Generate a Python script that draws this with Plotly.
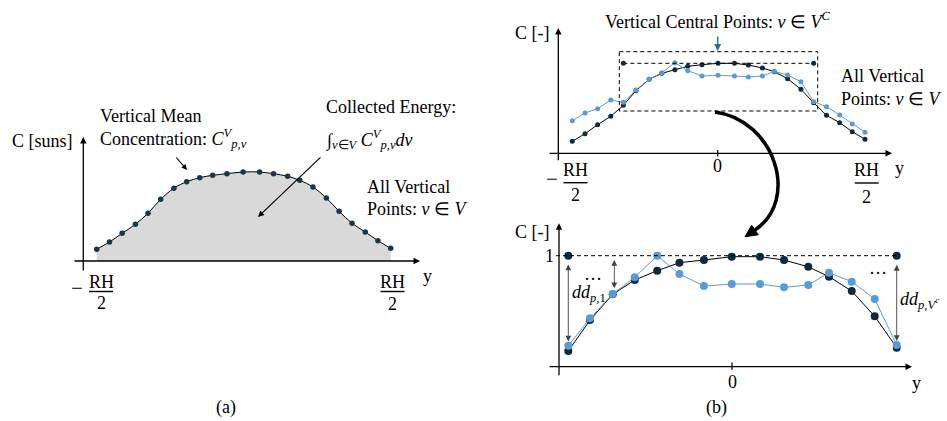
import plotly.graph_objects as go

# ---------------- data ----------------
# normalized vertical position (y / (RH/2)) of every vertical point
y_pos = [-1.0, -0.913, -0.827, -0.737, -0.651, -0.565, -0.475, -0.388, -0.299, -0.211, -0.114,
         -0.004, 0.108, 0.203, 0.299, 0.381, 0.471, 0.562, 0.649, 0.737, 0.827, 0.913, 1.0]

# (a) vertical mean concentration
conc_a = [0.117, 0.19, 0.277, 0.367, 0.477, 0.617, 0.727, 0.793, 0.833, 0.857, 0.873, 0.89,
          0.89, 0.873, 0.847, 0.807, 0.74, 0.63, 0.497, 0.377, 0.29, 0.203, 0.127]

# (b) top: reference (black) and actual (blue) profiles
conc_ref = [0.12, 0.196, 0.286, 0.37, 0.48, 0.626, 0.74, 0.80, 0.836, 0.87, 0.886, 0.90,
            0.90, 0.883, 0.853, 0.816, 0.746, 0.64, 0.506, 0.38, 0.306, 0.216, 0.14]
conc_act = [0.326, 0.403, 0.446, 0.533, 0.51, 0.633, 0.74, 0.806, 0.906, 0.826, 0.773, 0.78,
            0.773, 0.763, 0.773, 0.82, 0.783, 0.716, 0.516, 0.466, 0.383, 0.293, 0.21]

# central points (indices into y_pos)
central_first, central_last = 4, 18

# (b) bottom: normalized central profiles
norm_ref = [0.141, 0.42, 0.652, 0.781, 0.865, 0.937, 0.961, 0.991, 0.991, 0.961, 0.90, 0.811,
            0.682, 0.454, 0.171]
norm_act = [0.189, 0.436, 0.655, 0.805, 1.0, 0.835, 0.727, 0.745, 0.745, 0.715, 0.736, 0.847,
            0.766, 0.61, 0.195]

# ---------------- helpers ----------------
W, H = 947, 421
SERIF = "Liberation Serif"
FS = 18
BLUE = "#5b9bd5"
DARK = "#0f2a3a"


def fx(p):
    return p / W


def fy(p):
    return 1 - p / H


def axis_cfg(dom, ref1, ref2, vertical=False):
    (p1, v1), (p2, v2) = ref1, ref2
    s = (v2 - v1) / (p2 - p1)
    val = lambda p: v1 + (p - p1) * s
    a, b = dom
    if not vertical:
        return dict(domain=[a / W, b / W], range=[val(a), val(b)], visible=False)
    return dict(domain=[1 - b / H, 1 - a / H], range=[val(b), val(a)], visible=False)


annotations = []
shapes = []


def txt(x, y, s, size=FS, anchor="center", color="black"):
    annotations.append(dict(x=fx(x), y=fy(y), xref="paper", yref="paper", text=s,
                            showarrow=False, xanchor=anchor, yanchor="middle",
                            font=dict(family=SERIF, size=size, color=color)))


def arrow(x0, y0, x1, y1, color="black", width=1.3, head=2, size=1.0, both=False):
    annotations.append(dict(x=fx(x1), y=fy(y1), xref="paper", yref="paper",
                            ax=x0 - x1, ay=y0 - y1, axref="pixel", ayref="pixel",
                            showarrow=True, text="", arrowhead=head, arrowsize=size,
                            arrowwidth=width, arrowcolor=color,
                            arrowside="end+start" if both else "end",
                            startarrowhead=head, startarrowsize=size,
                            standoff=0, startstandoff=0))


def line(x0, y0, x1, y1, width=1.0, dash="solid", color="black"):
    shapes.append(dict(type="line", xref="paper", yref="paper", x0=fx(x0), y0=fy(y0),
                       x1=fx(x1), y1=fy(y1), line=dict(color=color, width=width, dash=dash)))


def frac(xc, y_num, y_bar, y_den, minus_x=None):
    txt(xc, y_num, "RH")
    line(xc - 12, y_bar, xc + 12, y_bar, width=1.4)
    txt(xc, y_den, "2")
    if minus_x is not None:
        txt(minus_x, y_bar - 4, "−", size=21)


fig = go.Figure()

# ---------------- panel (a) ----------------
fig.add_trace(go.Scatter(x=y_pos, y=conc_a, mode="lines+markers", xaxis="x", yaxis="y",
                         line=dict(shape="spline", color="black", width=1),
                         marker=dict(size=5.5, color="#17384a"),
                         fill="tozeroy", fillcolor="#d9d9d9", showlegend=False,
                         hoverinfo="skip"))

arrow(83.3, 272, 83.3, 137)        # y axis
arrow(73, 261, 420, 261)           # x axis
txt(42, 141, "C [suns]")
txt(98, 116, "Vertical Mean", anchor="left")
txt(98, 138, "Concentration: <i>C</i><sup><i>V</i></sup><sub><i>p,v</i></sub>", anchor="left")
arrow(175, 156, 187, 170, width=1.1)
txt(324, 107, "Collected Energy:", anchor="left")
txt(324, 139, "∫<sub><i>v</i>∈<i>V</i></sub> <i>C</i><sup><i>V</i></sup><sub><i>p,v</i></sub><i>dv</i>",
    anchor="left")
arrow(322, 156, 258, 217, width=1.2)
txt(365, 187, "All Vertical", anchor="left")
txt(365, 209, "Points: <i>v</i> ∈ <i>V</i>", anchor="left")
frac(101, 282, 291.5, 303, minus_x=77)
frac(392.5, 282, 291.5, 304)
txt(427, 276, "y")
txt(226, 407, "(a)")

# ---------------- panel (b) top ----------------
fig.add_trace(go.Scatter(x=y_pos, y=conc_ref, mode="lines+markers", xaxis="x2", yaxis="y2",
                         line=dict(color="black", width=1),
                         marker=dict(size=5, color=DARK), showlegend=False, hoverinfo="skip"))
fig.add_trace(go.Scatter(x=y_pos, y=conc_act, mode="lines+markers", xaxis="x2", yaxis="y2",
                         line=dict(color=BLUE, width=1),
                         marker=dict(size=5, color=BLUE), showlegend=False, hoverinfo="skip"))
cmax = max(conc_ref[central_first:central_last + 1])
fig.add_trace(go.Scatter(x=[y_pos[central_first], y_pos[central_last]], y=[cmax, cmax],
                         mode="lines+markers", xaxis="x2", yaxis="y2",
                         line=dict(color="black", width=1, dash="4px,3px"),
                         marker=dict(size=5, color=DARK), showlegend=False, hoverinfo="skip"))

arrow(558.3, 161.7, 558.3, 28)
arrow(548, 153.3, 892, 153.3)
line(717.7, 150, 717.7, 156.5, width=1.2)
txt(717.7, 166, "0")
txt(532, 33, "C [-]")
txt(717, 20, "Vertical Central Points: <i>v</i> ∈ <i>V</i><sup><i>C</i></sup>")
arrow(717.7, 35, 717.7, 51, color="#2b6e8c", width=1.4)
shapes.append(dict(type="rect", xref="paper", yref="paper", x0=fx(619.3), x1=fx(817.7),
                   y0=fy(51.7), y1=fy(111), line=dict(color="black", width=1, dash="4px,3px")))
txt(839, 76, "All Vertical", anchor="left")
txt(839, 99, "Points: <i>v</i> ∈ <i>V</i>", anchor="left")
frac(575.5, 170, 182.7, 195, minus_x=552)
frac(866.7, 170, 183, 197)
txt(899, 168, "y")

# big curved arrow
P = lambda x, y: f"{fx(x):.5f},{fy(y):.5f}"
shapes.append(dict(type="path", xref="paper", yref="paper",
                   path=f"M {P(715, 112)} C {P(775, 120)} {P(800, 200)} {P(755, 230)}",
                   line=dict(color="black", width=3.5)))
shapes.append(dict(type="path", xref="paper", yref="paper",
                   path=f"M {P(745, 236.7)} L {P(758.3, 234.8)} L {P(751.7, 225.2)} Z",
                   fillcolor="black", line=dict(color="black", width=1)))

# ---------------- panel (b) bottom ----------------
y_central = y_pos[central_first:central_last + 1]
line(556, 255.7, 896.7, 255.7, width=1, dash="4px,3px")
fig.add_trace(go.Scatter(x=[y_central[0], y_central[-1]], y=[1, 1], mode="markers",
                         xaxis="x3", yaxis="y3", marker=dict(size=8, color=DARK),
                         showlegend=False, hoverinfo="skip"))
fig.add_trace(go.Scatter(x=y_central, y=norm_ref, mode="lines+markers", xaxis="x3", yaxis="y3",
                         line=dict(color="black", width=1),
                         marker=dict(size=8, color=DARK), showlegend=False, hoverinfo="skip"))
fig.add_trace(go.Scatter(x=y_central, y=norm_act, mode="lines+markers", xaxis="x3", yaxis="y3",
                         line=dict(color=BLUE, width=1),
                         marker=dict(size=8, color=BLUE), showlegend=False, hoverinfo="skip"))

arrow(559, 376.7, 559, 223.3)
arrow(548, 366.7, 912, 366.7)
line(732, 362.5, 732, 370, width=1.2)
txt(732, 382, "0")
txt(916.7, 383, "y")
txt(532, 232, "C [-]")
txt(549, 256, "1")
arrow(568.3, 263, 568.3, 341.5, color="#444444", width=0.9, size=1.3, both=True)
arrow(614.3, 258.5, 614.3, 288.3, color="#444444", width=0.9, size=1.3, both=True)
arrow(896.7, 263.3, 896.7, 341, color="#444444", width=0.9, size=1.3, both=True)
txt(593, 274, "…")
txt(878, 268, "…")
txt(570, 293, "<i>dd</i><sub><i>p</i>,1</sub>", anchor="left")
txt(898, 300, "<i>dd</i><sub><i>p,V</i><sup><i>c</i></sup></sub>", anchor="left")
txt(716, 407, "(b)")

# ---------------- layout ----------------
fig.update_layout(
    width=W, height=H, margin=dict(l=0, r=0, t=0, b=0),
    paper_bgcolor="white", plot_bgcolor="rgba(0,0,0,0)", showlegend=False,
    xaxis=axis_cfg((60, 430), (96.7, -1), (390.7, 1)),
    yaxis=axis_cfg((130, 275), (261, 0), (161, 1), vertical=True),
    xaxis2=axis_cfg((545, 900), (572.3, -1), (865, 1)),
    yaxis2=axis_cfg((25, 165), (153.3, 0), (53.3, 1), vertical=True),
    xaxis3=axis_cfg((545, 915), (568.3, y_pos[central_first]), (896.7, y_pos[central_last])),
    yaxis3=axis_cfg((220, 380), (366.7, 0), (255.7, 1), vertical=True),
    annotations=annotations, shapes=shapes,
)
fig.update_layout(xaxis_anchor="y", yaxis_anchor="x", xaxis2_anchor="y2", yaxis2_anchor="x2",
                  xaxis3_anchor="y3", yaxis3_anchor="x3")

fig.write_html("out.html", config={"displayModeBar": False},
               post_script="document.body.style.margin='0';document.body.style.overflow='hidden';")
